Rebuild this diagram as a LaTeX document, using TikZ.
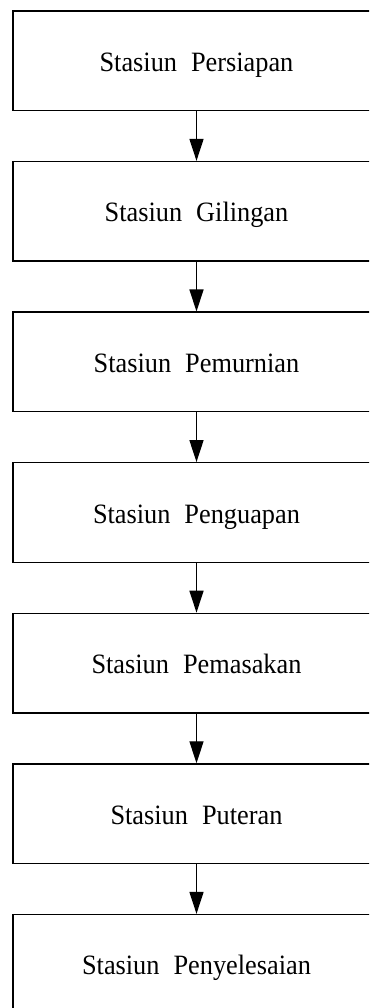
\documentclass[tikz,border=0pt]{standalone}
\usepackage{fontspec}
\setmainfont{Liberation Serif}
\newfontfamily\boxfont[FakeStretch=0.94]{Liberation Serif}
\usetikzlibrary{arrows.meta}
\newcommand{\wgap}{\hspace{14pt}}
\begin{document}
\begin{tikzpicture}[x=1pt,y=1pt,
  stationbox/.style={draw=black, line width=1.4pt, rectangle, minimum width=367pt, minimum height=99.5pt, inner sep=0pt, text height=21pt, text depth=0pt, font=\boxfont\fontsize{28}{33}\selectfont},
  flowarrow/.style={draw=black, line width=1.4pt, -{Triangle[width=14pt,length=22pt]}}]
\useasboundingbox (0,0) rectangle (369,1008);
\clip (0,0) rectangle (369,1008);
\node[stationbox] (b1) at (196.5,{1008-(11+0*150.6+49.75)}) {Stasiun\wgap Persiapan};
\node[stationbox] (b2) at (196.5,{1008-(11+1*150.6+49.75)}) {Stasiun\wgap Gilingan};
\node[stationbox] (b3) at (196.5,{1008-(11+2*150.6+49.75)}) {Stasiun\wgap Pemurnian};
\node[stationbox] (b4) at (196.5,{1008-(11+3*150.6+49.75)}) {Stasiun\wgap Penguapan};
\node[stationbox] (b5) at (196.5,{1008-(11+4*150.6+49.75)}) {Stasiun\wgap Pemasakan};
\node[stationbox] (b6) at (196.5,{1008-(11+5*150.6+49.75)}) {Stasiun\wgap Puteran};
\node[stationbox] (b7) at (196.5,{1008-(11+6*150.6+49.75)}) {Stasiun\wgap Penyelesaian};
\draw[flowarrow] (b1.south) -- (b2.north);
\draw[flowarrow] (b2.south) -- (b3.north);
\draw[flowarrow] (b3.south) -- (b4.north);
\draw[flowarrow] (b4.south) -- (b5.north);
\draw[flowarrow] (b5.south) -- (b6.north);
\draw[flowarrow] (b6.south) -- (b7.north);
\end{tikzpicture}
\end{document}
